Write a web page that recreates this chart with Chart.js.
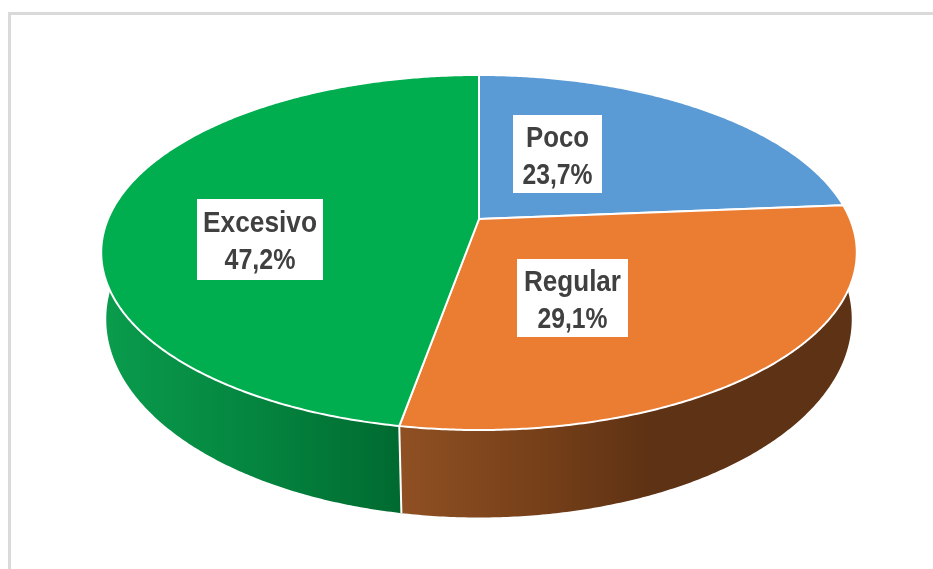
<!DOCTYPE html>
<html lang="es">
<head>
<meta charset="utf-8">
<title>Pie 3D</title>
<script src="https://cdn.jsdelivr.net/npm/chart.js@4"></script>
<style>
    html, body { margin: 0; padding: 0; background: #fff; overflow: hidden; }
    #frame { position: absolute; left: 8px; top: 12px; width: 925px; height: 557px; box-sizing: border-box;
             border-left: 3px solid #dadada; border-top: 3px solid #dadada; }
    #pie { position: absolute; left: 0; top: 0; }
</style>
</head>
<body>
<div id="frame"></div>
<canvas id="pie" width="933" height="569"></canvas>
<script>
const categories = ['Poco', 'Regular', 'Excesivo'];
const percentLabels = ['23,7%', '29,1%', '47,2%'];
const values = [23.7, 29.1, 47.2];

const faceColors = ['#5B9BD5', '#EB7D32', '#00AE4F'];

// perspective of the top and bottom disc, fitted on the reference
const topDisc    = { cx: 479, cy: 219,   a: 371, b: 171.2, k: 0.1887 };
const bottomDisc = { cx: 479, cy: 284.5, a: 367, b: 192.2, k: 0.175 };

const labelBoxes = [
    { x: 513, y: 115, w: 89,  h: 78, cx: 557.5, lines: [147, 184], widths: [63, 70] },
    { x: 517, y: 259, w: 111, h: 78, cx: 572.5, lines: [291, 328], widths: [97, 70] },
    { x: 197, y: 199, w: 126, h: 81, cx: 260,   lines: [232, 269], widths: [114, 71] }
];

function project(disc, angle) {
    const X = Math.sin(angle), Y = -Math.cos(angle);
    const w = 1 - disc.k * Y;
    return { x: disc.cx + disc.a * X / w, y: disc.cy + disc.b * Y / w };
}

function arcPoints(disc, from, to) {
    const steps = Math.max(2, Math.ceil((to - from) / 0.008));
    const pts = [];
    for (let i = 0; i <= steps; i++) pts.push(project(disc, from + (to - from) * i / steps));
    return pts;
}

function wallGradient(ctx, index) {
    if (index === 1) {
        const g = ctx.createLinearGradient(400, 0, 650, 0);
        g.addColorStop(0, '#8F5023');
        g.addColorStop(0.55, '#774019');
        g.addColorStop(1, '#5E3214');
        return g;
    }
    if (index === 2) {
        const g = ctx.createLinearGradient(103, 0, 400, 0);
        g.addColorStop(0, '#0A9C4D');
        g.addColorStop(0.55, '#04833E');
        g.addColorStop(1, '#006A30');
        return g;
    }
    return '#33618C';
}

const pie3d = {
    id: 'pie3d',
    beforeDatasetsDraw(chart) {
        const ctx = chart.ctx;
        const arcs = chart.getDatasetMeta(0).data;
        const turn = Math.PI / 2;   // chart.js angle 0 is at 3 o'clock

        ctx.save();
        ctx.lineJoin = 'round';

        arcs.forEach((arc, i) => {
            const from = arc.startAngle + turn, to = arc.endAngle + turn;
            const upper = arcPoints(topDisc, from, to);
            const lower = arcPoints(bottomDisc, from, to).reverse();
            ctx.beginPath();
            upper.concat(lower).forEach((p, n) => n ? ctx.lineTo(p.x, p.y) : ctx.moveTo(p.x, p.y));
            ctx.closePath();
            ctx.fillStyle = wallGradient(ctx, i);
            ctx.fill();
        });

        ctx.strokeStyle = '#fff';
        ctx.lineWidth = 2;
        arcs.forEach(arc => {
            const a = arc.startAngle + turn;
            const p = project(topDisc, a), q = project(bottomDisc, a);
            ctx.beginPath();
            ctx.moveTo(p.x, p.y);
            ctx.lineTo(q.x, q.y);
            ctx.stroke();
        });

        arcs.forEach((arc, i) => {
            const pts = arcPoints(topDisc, arc.startAngle + turn, arc.endAngle + turn);
            ctx.beginPath();
            ctx.moveTo(topDisc.cx, topDisc.cy);
            pts.forEach(p => ctx.lineTo(p.x, p.y));
            ctx.closePath();
            ctx.fillStyle = faceColors[i];
            ctx.fill();
            ctx.stroke();
        });

        ctx.font = 'bold 29px "Liberation Sans", Arial, sans-serif';
        ctx.textAlign = 'center';
        ctx.textBaseline = 'alphabetic';
        categories.forEach((name, i) => {
            const box = labelBoxes[i];
            ctx.fillStyle = '#fff';
            ctx.fillRect(box.x, box.y, box.w, box.h);
            ctx.fillStyle = '#404040';
            ctx.fillText(name, box.cx, box.lines[0], box.widths[0]);
            ctx.fillText(percentLabels[i], box.cx, box.lines[1], box.widths[1]);
        });
        ctx.restore();
        return false;
    }
};

new Chart(document.getElementById('pie').getContext('2d'), {
    type: 'pie',
    data: {
        labels: categories,
        datasets: [{ data: values, backgroundColor: faceColors, borderColor: '#fff', borderWidth: 2 }]
    },
    options: {
        responsive: false,
        animation: false,
        plugins: { legend: { display: false }, tooltip: { enabled: false } }
    },
    plugins: [pie3d]
});
</script>
</body>
</html>
